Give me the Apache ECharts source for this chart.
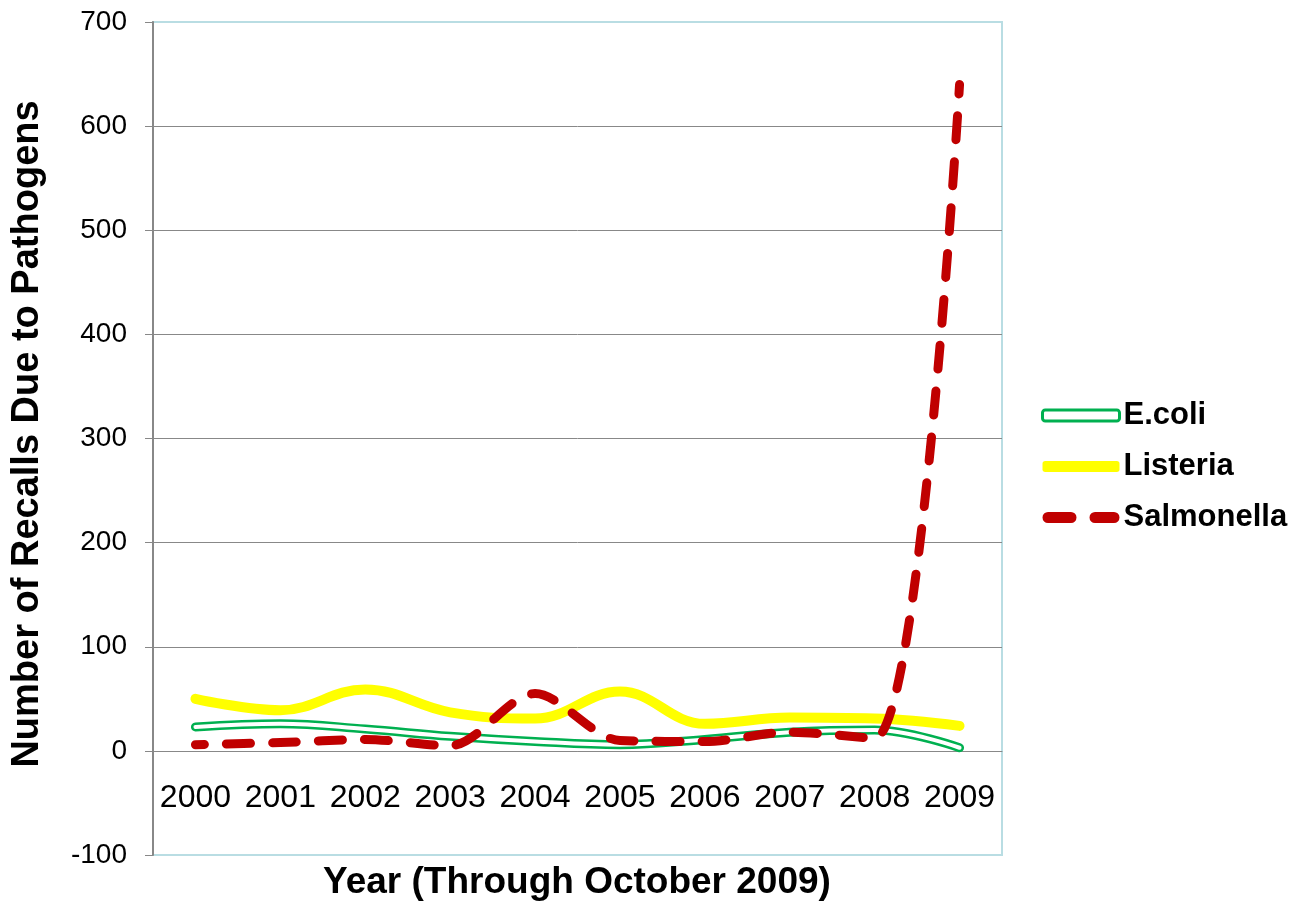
<!DOCTYPE html>
<html>
<head>
<meta charset="utf-8">
<title>Recalls Due to Pathogens</title>
<script src="https://cdn.jsdelivr.net/npm/echarts@6/dist/echarts.min.js"></script>
<style>
  html, body { margin: 0; padding: 0; background: #ffffff; }
  #chart { width: 1296px; height: 903px; }
</style>
</head>
<body>
<div id="chart"></div>
<script>
// Recalls per year, 2000 through October 2009
const years = ['2000', '2001', '2002', '2003', '2004', '2005', '2006', '2007', '2008', '2009'];
const ecoli = [23, 26, 21, 14, 9, 6, 11, 18, 20, 3];
const listeria = [50, 39, 59, 37, 31, 57, 26, 32, 31, 24];
const salmonella = [6, 8, 11, 5, 55, 10, 9, 18, 12, 640];

const FONT = '"Liberation Sans", Arial, sans-serif';
const GREEN = '#00b050';
const YELLOW = '#ffff00';
const RED = '#c00000';
const GRID_GREY = '#888888';
const FRAME = '#b9dde3';

const Y_MIN = -100, Y_MAX = 700;
const GRID_TOP = 22, GRID_BOTTOM = 48, CHART_H = 903;

// the category axis sits on the zero line: shift it up from the grid bottom
const plotH = CHART_H - GRID_TOP - GRID_BOTTOM;
const zeroOffset = -plotH * (0 - Y_MIN) / (Y_MAX - Y_MIN);

const chart = echarts.init(document.getElementById('chart'), null, { renderer: 'canvas' });

const smoothness = 0.4;

chart.setOption({
  animation: false,
  backgroundColor: '#ffffff',
  grid: {
    left: 153, right: 294, top: GRID_TOP, bottom: GRID_BOTTOM,
    outerBoundsMode: 'none',
    containLabel: false,
    show: true,
    borderColor: FRAME,
    borderWidth: 2,
    backgroundColor: 'transparent'
  },
  xAxis: {
    type: 'category',
    data: years,
    boundaryGap: true,
    position: 'bottom',
    offset: zeroOffset,
    axisLine: { onZero: false, lineStyle: { color: GRID_GREY, width: 1 } },
    axisTick: { show: false },
    axisLabel: { interval: 0, fontFamily: FONT, fontSize: 32, color: '#000', margin: 31, hideOverlap: false },
    splitLine: { show: false }
  },
  yAxis: {
    type: 'value',
    min: Y_MIN, max: Y_MAX, interval: 100,
    axisLine: { show: true, lineStyle: { color: GRID_GREY, width: 2 } },
    axisTick: { show: true, inside: false, length: 8, lineStyle: { color: GRID_GREY, width: 1 } },
    axisLabel: { fontFamily: FONT, fontSize: 28, color: '#000', margin: 26 },
    splitLine: {
      show: true,
      lineStyle: {
        width: 1,
        color: [FRAME, GRID_GREY, GRID_GREY, GRID_GREY, GRID_GREY, GRID_GREY, GRID_GREY, GRID_GREY, FRAME]
      }
    }
  },
  legend: {
    orient: 'vertical',
    left: 1041,
    top: 400,
    padding: 0,
    itemWidth: 77,
    itemHeight: 11,
    itemGap: 20,
    textStyle: { fontFamily: FONT, fontSize: 31, fontWeight: 'bold', color: '#000', lineHeight: 31, padding: [0, 0, 0, -1] },
    selectedMode: false,
    data: [
      {
        name: 'E.coli',
        icon: 'roundRect',
        itemStyle: { color: '#ffffff', borderColor: GREEN, borderWidth: 3 }
      },
      {
        name: 'Listeria',
        icon: 'roundRect',
        itemStyle: { color: YELLOW }
      },
      {
        name: 'Salmonella',
        icon: 'path://M5.5,0H28.5A5.5,5.5,0,0,1,28.5,11H5.5A5.5,5.5,0,0,1,5.5,0ZM52.5,0H71.5A5.5,5.5,0,0,1,71.5,11H52.5A5.5,5.5,0,0,1,52.5,0Z',
        itemStyle: { color: RED }
      }
    ]
  },
  series: [
    {
      name: 'E.coli',
      type: 'line',
      data: ecoli,
      smooth: smoothness,
      symbol: 'none',
      lineStyle: { color: GREEN, width: 9, cap: 'round', join: 'round' },
      itemStyle: { color: GREEN },
      emphasis: { disabled: true }
    },
    {
      // white core that turns the green stroke into a double line
      name: 'E.coli core',
      type: 'line',
      data: ecoli,
      smooth: smoothness,
      symbol: 'none',
      lineStyle: { color: '#ffffff', width: 4, cap: 'round', join: 'round' },
      itemStyle: { color: '#ffffff' },
      emphasis: { disabled: true }
    },
    {
      name: 'Listeria',
      type: 'line',
      data: listeria,
      smooth: smoothness,
      symbol: 'none',
      lineStyle: { color: YELLOW, width: 10, cap: 'round', join: 'round' },
      itemStyle: { color: YELLOW },
      emphasis: { disabled: true }
    },
    {
      name: 'Salmonella',
      type: 'line',
      data: salmonella,
      smooth: 0.3,
      symbol: 'none',
      lineStyle: { color: RED, width: 9, type: [24, 22], dashOffset: 15, cap: 'round', join: 'round' },
      itemStyle: { color: RED },
      emphasis: { disabled: true }
    }
  ],
  graphic: [
    {
      type: 'text',
      x: 28, y: 434,
      rotation: Math.PI / 2,
      style: {
        text: 'Number of Recalls Due to Pathogens',
        font: 'bold 38px ' + FONT,
        fill: '#000',
        align: 'center', verticalAlign: 'middle',
        textAlign: 'center', textVerticalAlign: 'middle'
      }
    },
    {
      type: 'text',
      x: 577, y: 883,
      style: {
        text: 'Year (Through October 2009)',
        font: 'bold 37px ' + FONT,
        fill: '#000',
        align: 'center', verticalAlign: 'middle',
        textAlign: 'center', textVerticalAlign: 'middle'
      }
    }
  ]
});
</script>
</body>
</html>
